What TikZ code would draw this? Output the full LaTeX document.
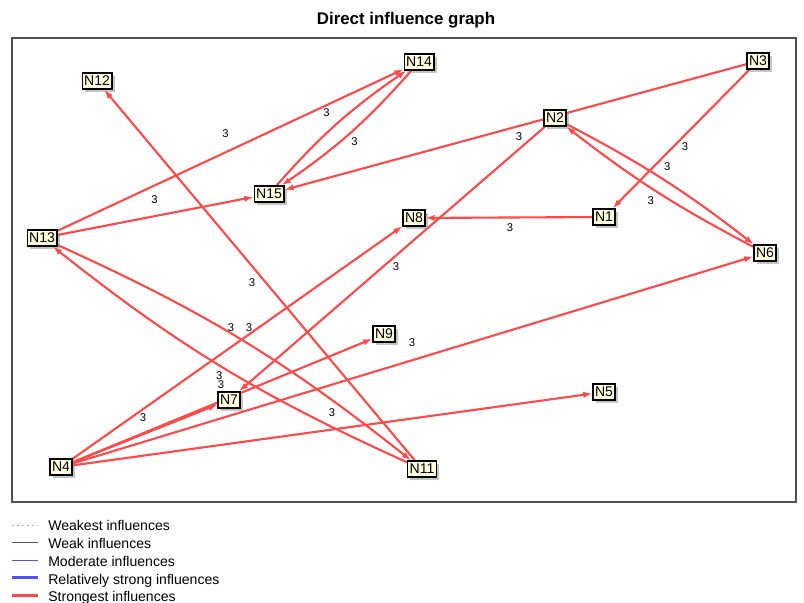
\documentclass[tikz,border=0pt]{standalone}
\usepackage{fontspec}
\setmainfont{Liberation Sans}
\usetikzlibrary{arrows.meta,shadows}
\definecolor{edgered}{RGB}{255,72,72}
\definecolor{nodecream}{RGB}{255,255,224}
\definecolor{framegray}{RGB}{80,80,80}
\definecolor{moderateblue}{RGB}{80,80,255}
\pgfdeclarelayer{edges}
\pgfsetlayers{edges,main}
\tikzset{
	infnode/.style={draw=black, line width=0.9pt, fill=nodecream, inner xsep=1.4pt, inner ysep=1pt,
		minimum height=11.5pt, font=\fontsize{10}{12}\selectfont,
		drop shadow={shadow xshift=2pt, shadow yshift=-2pt, fill=black!45}},
	infl/.style={draw=edgered, line width=1.5pt, -{Latex[length=6.5pt,width=4.5pt]}},
	wt/.style={font=\fontsize{8}{9}\selectfont, inner sep=0pt, pos=.5},
	legtxt/.style={anchor=base west, inner sep=0pt, font=\fontsize{10}{12}\selectfont},
}

\begin{document}
\begin{tikzpicture}[x=0.025cm, y=-0.025cm]
			%%%%% START %%%%%
			\useasboundingbox (0,0) rectangle (804,603);
			
			\node[font=\fontsize{12}{14}\selectfont\bfseries] (title) at (406,20) {Direct influence graph};
			\draw[framegray, line width=1.4pt] (12,38) rectangle (796,502);
			
			\node[infnode] (n12) at (97,81) {N12};
			\node[infnode] (n14) at (419,62) {N14};
			\node[infnode] (n3) at (758,61) {N3};
			\node[infnode] (n2) at (555,118) {N2};
			\node[infnode] (n15) at (269,194) {N15};
			\node[infnode] (n8) at (414,218) {N8};
			\node[infnode] (n1) at (604,217) {N1};
			\node[infnode] (n13) at (42,238) {N13};
			\node[infnode] (n6) at (765,253) {N6};
			\node[infnode] (n9) at (384,334) {N9};
			\node[infnode] (n7) at (229,400) {N7};
			\node[infnode] (n5) at (604,392) {N5};
			\node[infnode] (n4) at (61,467) {N4};
			\node[infnode] (n11) at (422,469) {N11};
			
			\begin{pgfonlayer}{edges}
			\draw[infl] (n13) -- node[wt, shift={(-5,-16)}] {3} (n14);
			\draw[infl] (n13) -- node[wt, shift={(-1,-16)}] {3} (n15);
			\draw[infl] (n15) to[bend left=7] node[wt, shift={(-11,-11)}] {3} (n14);
			\draw[infl] (n14) to[bend left=7] node[wt, shift={(4,9)}] {3} (n15);
			\draw[infl] (n3) -- node[wt, shift={(3.5,10)}] {3} (n15);
			\draw[infl] (n3) -- node[wt, shift={(4,8)}] {3} (n1);
			\draw[infl] (n2) to[bend left=5] node[wt, shift={(4,-13)}] {3} (n6);
			\draw[infl] (n6) to[bend left=5] node[wt, shift={(-6,9)}] {3} (n2);
			\draw[infl] (n1) -- node[wt, shift={(1,10.5)}] {3} (n8);
			\draw[infl] (n2) -- node[wt, shift={(4,8)}] {3} (n7);
			\draw[infl] (n11) -- node[wt, shift={(-7.5,8)}] {3} (n12);
			\draw[infl] (n13) to[bend left=7] node[wt, shift={(7,-12)}] {3} (n11);
			\draw[infl] (n11) to[bend left=7] node[wt, shift={(-3,8)}] {3} (n13);
			
			\draw[infl] (n4) -- node[wt, shift={(-6.5,-14.5)}] {3} (n8);
			\draw[infl] (n4) -- node[wt, shift={(-2,-16)}] {3} (n7);
			\draw[infl] (n4) -- node[wt, shift={(-1.5,-15.5)}] {3} (n9);
			\draw[infl] (n4) -- node[wt, shift={(-1,-17)}] {3} (n6);
			\draw[infl] (n4) -- node[wt, shift={(-0.5,-16.5)}] {3} (n5);
			\end{pgfonlayer}
			
			% legend
			\draw[black!30, line width=0.6pt, dash pattern=on 1.5pt off 2pt] (12,525) -- (38,525);
			\node[legtxt] (lgweakest) at (48,530.7) {Weakest influences};
			\draw[black!65, line width=0.7pt] (12,542.3) -- (38,542.3);
			\node[legtxt] (lgweak) at (48,548.3) {Weak influences};
			\draw[moderateblue, line width=0.7pt] (12,560.7) -- (38,560.7);
			\node[legtxt] (lgmoderate) at (48,566.7) {Moderate influences};
			\draw[moderateblue, line width=2pt] (12,577.7) -- (38,577.7);
			\node[legtxt] (lgrelstrong) at (48,584.3) {Relatively strong influences};
			\draw[edgered, line width=2pt] (12,595.7) -- (38,595.7);
			\node[legtxt] (lgstrongest) at (48,601.7) {Strongest influences};
			
			%%%%% END %%%%%
\end{tikzpicture}
\end{document}
